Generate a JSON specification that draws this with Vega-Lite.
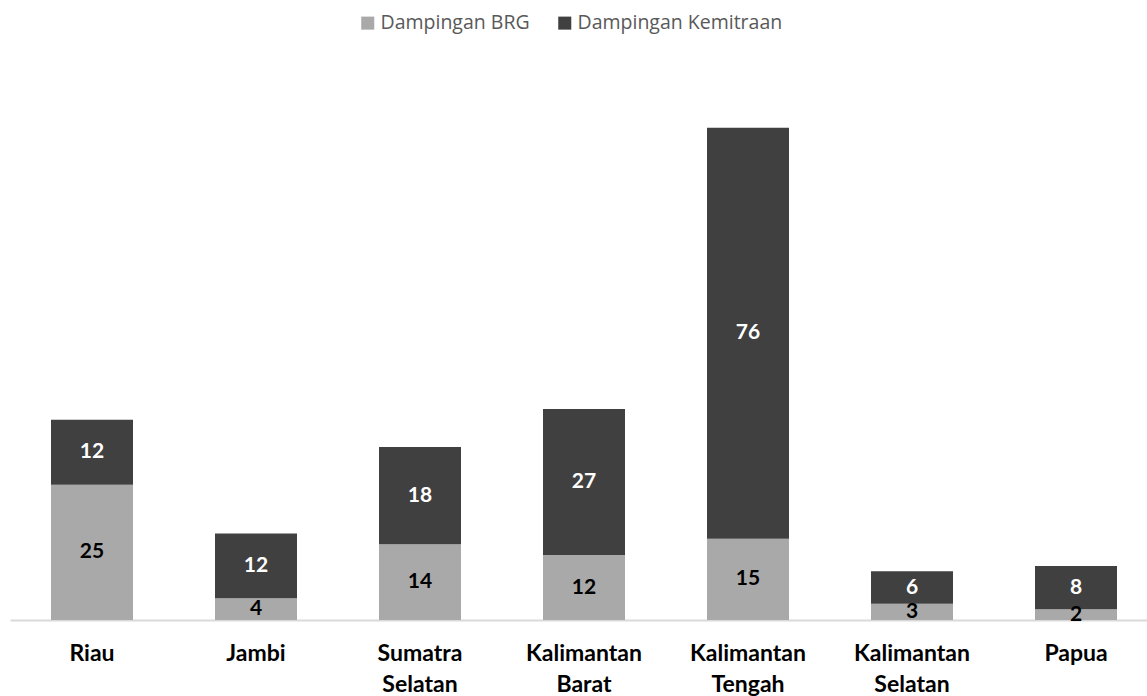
{
  "$schema": "https://vega.github.io/schema/vega-lite/v6.json",
  "autosize": {"type": "none"},
  "padding": {"left": 10, "top": 79, "right": 0, "bottom": 76},
  "width": 1148,
  "height": 541,
  "background": "white",
  "config": {"view": {"stroke": null}, "font": "Lato"},
  "data": {"values": [
    {"provinsi": "Riau", "series": "Dampingan BRG", "value": 25},
    {"provinsi": "Riau", "series": "Dampingan Kemitraan", "value": 12},
    {"provinsi": "Jambi", "series": "Dampingan BRG", "value": 4},
    {"provinsi": "Jambi", "series": "Dampingan Kemitraan", "value": 12},
    {"provinsi": "Sumatra Selatan", "series": "Dampingan BRG", "value": 14},
    {"provinsi": "Sumatra Selatan", "series": "Dampingan Kemitraan", "value": 18},
    {"provinsi": "Kalimantan Barat", "series": "Dampingan BRG", "value": 12},
    {"provinsi": "Kalimantan Barat", "series": "Dampingan Kemitraan", "value": 27},
    {"provinsi": "Kalimantan Tengah", "series": "Dampingan BRG", "value": 15},
    {"provinsi": "Kalimantan Tengah", "series": "Dampingan Kemitraan", "value": 76},
    {"provinsi": "Kalimantan Selatan", "series": "Dampingan BRG", "value": 3},
    {"provinsi": "Kalimantan Selatan", "series": "Dampingan Kemitraan", "value": 6},
    {"provinsi": "Papua", "series": "Dampingan BRG", "value": 2},
    {"provinsi": "Papua", "series": "Dampingan Kemitraan", "value": 8}
  ]},
  "encoding": {
    "x": {
      "field": "provinsi", "type": "nominal", "sort": null,
      "scale": {"paddingInner": 0.5, "paddingOuter": 0.25},
      "axis": {
        "title": null, "labelAngle": 0, "ticks": false,
        "domainColor": "#D9D9D9", "domainWidth": 2,
        "labelFont": "Lato", "labelFontWeight": "bold", "labelFontSize": 23,
        "labelColor": "#000000", "labelPadding": 22, "labelLineHeight": 31,
        "labelExpr": "split(datum.label, ' ')"
      }
    },
    "order": {"field": "series", "sort": "ascending"}
  },
  "layer": [
    {
      "mark": {"type": "bar"},
      "encoding": {
        "y": {"field": "value", "type": "quantitative", "stack": "zero",
              "scale": {"domain": [0, 100]}, "axis": null},
        "color": {
          "field": "series", "type": "nominal",
          "scale": {"domain": ["Dampingan BRG", "Dampingan Kemitraan"], "range": ["#A9A9A9", "#404040"]},
          "legend": {
            "title": null, "orient": "none", "direction": "horizontal",
            "legendX": 348, "legendY": -66,
            "symbolType": "square", "symbolSize": 170, "symbolStrokeWidth": 0,
            "labelFontSize": 19.5, "labelColor": "#595959", "labelFont": "Open Sans",
            "labelLimit": 400, "columnPadding": 25, "labelOffset": 3
          }
        }
      }
    },
    {
      "mark": {"type": "text", "fontWeight": "bold", "fontSize": 21, "font": "Lato", "baseline": "middle"},
      "encoding": {
        "y": {"field": "value", "type": "quantitative", "stack": "zero", "bandPosition": 0.5},
        "detail": {"field": "series", "type": "nominal"},
        "text": {"field": "value", "type": "quantitative"},
        "color": {"condition": {"test": "datum.series === 'Dampingan Kemitraan'", "value": "#FFFFFF"}, "value": "#000000"}
      }
    }
  ]
}
